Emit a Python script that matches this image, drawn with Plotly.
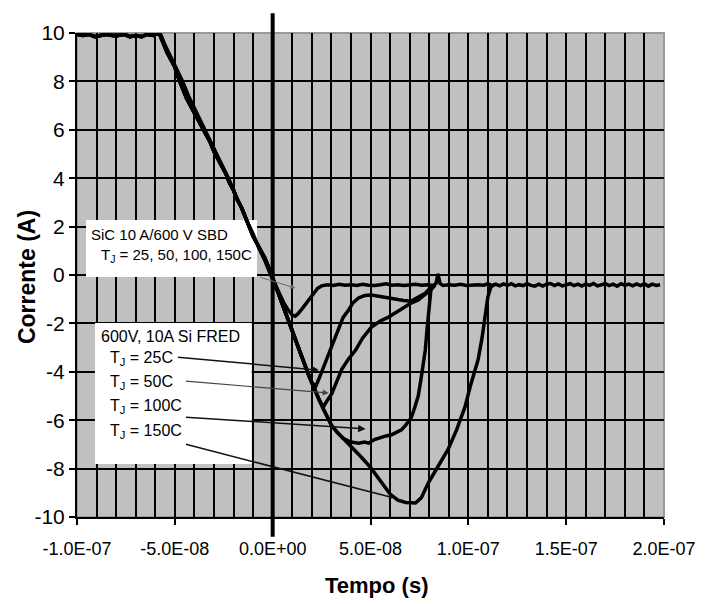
import plotly.graph_objects as go
import numpy as np

# ---------------- data (time in ns, current in A) ----------------
# common pre-zero waveform (all Si FRED curves)
t_pre = [-100, -97, -94, -91, -88, -85, -82, -79, -76, -73, -70, -67, -64, -61, -58,
         -56, -54, -52, -50, -48, -46, -44, -42, -40, -38, -36, -34, -32, -30, -28,
         -26, -24, -22, -20, -18, -16, -14, -12, -10, -8, -6, -4, -2, 0]
i_pre = [9.95, 9.9, 9.95, 9.85, 9.9, 9.95, 9.9, 9.9, 9.95, 9.85, 9.9, 9.85, 9.95, 9.9, 10.0,
         9.6, 9.2, 8.9, 8.6, 8.1, 7.7, 7.3, 7.0, 6.7, 6.4, 6.1, 5.8, 5.5, 5.1, 4.8,
         4.5, 4.2, 3.8, 3.5, 3.1, 2.8, 2.4, 2.0, 1.6, 1.3, 1.0, 0.7, 0.3, -0.1]

# SiC SBD descent (slightly offset trace) and recovery
t_sic_desc = [-57, -55, -52, -49, -46, -43, -40, -37, -34, -31, -28, -25, -22, -19, -16,
              -13, -10, -7, -4, -1]
i_sic_desc = [9.9, 9.5, 9.0, 8.5, 8.0, 7.4, 6.9, 6.4, 5.9, 5.4, 4.9, 4.4, 3.9, 3.3, 2.8,
              2.2, 1.7, 1.1, 0.6, 0.0]
t_sic = [2, 4, 6, 8, 10, 11.5, 13, 15, 17, 19, 21, 23, 25, 28, 31, 34, 37, 40, 43, 46,
         49, 52, 55, 58, 61, 64, 67, 70, 73, 76, 79, 82, 83.5, 84.5, 85.5, 87, 90, 93, 96,
         99, 102, 105, 108, 110, 112, 114, 116, 118, 120, 122, 124, 126, 128, 130, 132,
         134, 136, 138, 140, 142, 144, 146, 148, 150, 152, 154, 156, 158, 160, 162, 164,
         166, 168, 170, 172, 174, 176, 178, 180, 182, 184, 186, 188, 190, 192, 194, 196,
         198, 200]
i_sic = [-0.5, -0.9, -1.2, -1.45, -1.65, -1.7, -1.6, -1.4, -1.2, -0.95, -0.75, -0.55, -0.45,
         -0.4, -0.43, -0.38, -0.42, -0.4, -0.43, -0.38, -0.42, -0.43, -0.4, -0.36, -0.42,
         -0.4, -0.43, -0.4, -0.38, -0.42, -0.4, -0.43, -0.35, 0.05, -0.35, -0.43, -0.4,
         -0.42, -0.38, -0.43, -0.4, -0.4, -0.42, -0.36, -0.44, -0.38, -0.45, -0.37, -0.43,
         -0.36, -0.45, -0.4, -0.44, -0.36, -0.43, -0.46, -0.38, -0.46, -0.38, -0.35, -0.44,
         -0.37, -0.45, -0.41, -0.36, -0.44, -0.38, -0.46, -0.37, -0.43, -0.35, -0.45, -0.4,
         -0.36, -0.44, -0.38, -0.46, -0.36, -0.43, -0.38, -0.45, -0.37, -0.44, -0.36, -0.46,
         -0.38, -0.43, -0.4]

# Si FRED common descent after zero crossing (followed fully by Tj=150C)
t_fred = [2, 4, 6, 8, 10, 12, 14, 16, 18, 20, 22, 24, 26, 28, 30, 33, 36, 40, 45, 50,
          55, 60, 64, 68, 73]
i_fred = [-0.55, -1.0, -1.45, -1.9, -2.35, -2.8, -3.25, -3.65, -4.05, -4.45, -4.85, -5.2,
          -5.55, -5.9, -6.2, -6.5, -6.75, -7.05, -7.5, -7.95, -8.5, -9.05, -9.3, -9.4, -9.42]

# branches (leave the common descent at the given time)
t_25 = [22, 23.6, 26, 28.6, 31, 33.7, 36, 38.8, 41, 43.9, 47, 50.5, 54, 57.6, 61, 64.2,
        67, 70.8, 74, 78, 81, 83]
i_25 = [-4.6, -4.3, -3.8, -3.2, -2.7, -2.15, -1.75, -1.45, -1.15, -0.95, -0.85, -0.83,
        -0.88, -0.9, -0.95, -1.0, -1.05, -1.08, -0.95, -0.75, -0.5, -0.4]
t_50 = [26, 27, 30.2, 33, 35.3, 38.5, 42.4, 46, 50.5, 55, 59.2, 63, 67.8, 71, 74.4, 78,
        81, 83]
i_50 = [-5.45, -5.3, -4.9, -4.3, -3.9, -3.5, -3.1, -2.6, -2.15, -1.9, -1.74, -1.55, -1.32,
        -1.15, -1.03, -0.8, -0.6, -0.42]
t_100 = [36, 40, 44, 47, 49, 52, 55.6, 58, 60.7, 63, 65.8, 68, 70.8, 72.5, 74.4, 76, 77,
         78, 79, 80, 80.5, 81, 82]
i_100 = [-6.75, -6.9, -6.95, -6.9, -6.95, -6.8, -6.7, -6.65, -6.6, -6.5, -6.4, -6.2,
         -5.9, -5.5, -5.0, -4.2, -3.6, -3.1, -2.15, -1.3, -0.9, -0.5, -0.4]
t_150 = [76, 79.5, 84, 89.7, 94, 98.3, 101, 103, 105, 107, 108.5, 110, 111.5, 113]
i_150 = [-9.2, -8.6, -8.0, -7.2, -6.4, -5.45, -4.6, -4.1, -3.5, -2.6, -1.75, -0.9, -0.5, -0.4]
branch_25, branch_50, branch_100 = 20, 24, 33

x_tickvals = [-1e-7, -5e-8, 0, 5e-8, 1e-7, 1.5e-7, 2e-7]
x_ticktext = ["-1.0E-07", "-5.0E-08", "0.0E+00", "5.0E-08", "1.0E-07", "1.5E-07", "2.0E-07"]
y_tickvals = [10, 8, 6, 4, 2, 0, -2, -4, -6, -8, -10]
y_ticktext = ["10", "8", "6", "4", "2", "0", "-2", "-4", "-6", "-8", "-10"]

# ---------------- build curves ----------------
def fred_curve(branch_t, tb, ib):
    tt = list(t_pre) + [t for t in t_fred if t <= branch_t] + list(tb)
    ii = list(i_pre) + [i for t, i in zip(t_fred, i_fred) if t <= branch_t] + list(ib)
    return np.array(tt) * 1e-9, np.array(ii)

curves = [
    (np.array(t_pre[:15] + t_sic_desc + t_sic) * 1e-9, np.array(i_pre[:15] + i_sic_desc + i_sic)),
    fred_curve(branch_25, t_25, i_25),
    fred_curve(branch_50, t_50, i_50),
    fred_curve(branch_100, t_100, i_100),
    fred_curve(1000, t_150, i_150),
]

FONT = "Liberation Sans, Arial, sans-serif"
fig = go.Figure()
for tx, iy in curves:
    fig.add_trace(go.Scatter(x=tx, y=iy, mode="lines",
                             line=dict(color="black", width=3.5), showlegend=False,
                             hoverinfo="skip"))

# white label boxes
fig.add_shape(type="rect", xref="x", yref="y", x0=-9.54e-8, x1=-8.0e-9, y0=-0.08, y1=2.27,
              fillcolor="white", line=dict(width=0), layer="between")
fig.add_shape(type="rect", xref="x", yref="y", x0=-9.08e-8, x1=-1.07e-8, y0=-7.81, y1=-1.98,
              fillcolor="white", line=dict(width=0), layer="between")
# gray plot border (top/right)
fig.add_shape(type="rect", xref="paper", yref="paper", x0=0, x1=1, y0=0, y1=1,
              line=dict(color="#9a9a9a", width=2), layer="between")
# thick vertical line at t = 0
fig.add_shape(type="line", xref="x", yref="paper", x0=0, x1=0, y0=-0.041, y1=1.041,
              line=dict(color="black", width=4), layer="above")

ann = []
def txt(x, y, s, size):
    ann.append(dict(x=x, y=y, xref="x", yref="y", text=s, showarrow=False,
                    xanchor="left", yanchor="middle",
                    font=dict(family=FONT, size=size, color="black")))

txt(-9.4e-8, 1.68, "SiC 10 A/600 V SBD", 15)
txt(-8.9e-8, 0.82, "T<sub>J</sub> = 25, 50, 100, 150C", 15)
txt(-8.9e-8, -2.55, "600V, 10A Si FRED", 16)
txt(-8.4e-8, -3.43, "T<sub>J</sub> = 25C", 16)
txt(-8.4e-8, -4.45, "T<sub>J</sub> = 50C", 16)
txt(-8.4e-8, -5.45, "T<sub>J</sub> = 100C", 16)
txt(-8.4e-8, -6.48, "T<sub>J</sub> = 150C", 16)

def arrow(xt, yt, xs, ys, color, width, head=2, size=1.0):
    ann.append(dict(x=xt, y=yt, ax=xs, ay=ys, xref="x", yref="y", axref="x", ayref="y",
                    text="", showarrow=True, arrowhead=head, arrowsize=size,
                    arrowwidth=width, arrowcolor=color, standoff=0, startstandoff=0))

arrow(1.16e-8, -0.54, -6.95e-9, -0.08, "#6a6a6a", 1)
arrow(2.36e-8, -3.93, -4.92e-8, -3.39, "#111111", 1.5)
arrow(2.86e-8, -4.88, -4.51e-8, -4.38, "#444444", 1.2)
arrow(4.75e-8, -6.36, -4.51e-8, -5.87, "#111111", 1.5)
arrow(6.17e-8, -9.21, -4.51e-8, -6.98, "#111111", 1.5, head=2, size=0.6)

# axis titles as annotations (placed like the reference)
ann.append(dict(xref="paper", yref="paper", x=0.51, y=-0.1405, text="<b>Tempo (s)</b>",
                showarrow=False, xanchor="center", yanchor="middle",
                font=dict(family=FONT, size=22, color="black")))
ann.append(dict(xref="paper", yref="paper", x=-0.085, y=0.496, text="<b>Corrente (A)</b>",
                showarrow=False, xanchor="center", yanchor="middle", textangle=-90,
                font=dict(family=FONT, size=23, color="black")))

fig.update_layout(
    width=708, height=604,
    margin=dict(l=77, r=41, t=33, b=87),
    paper_bgcolor="white", plot_bgcolor="#c0c0c0",
    font=dict(family=FONT, color="black"),
    annotations=ann,
    showlegend=False,
)
fig.update_xaxes(
    range=[-1e-7, 2e-7], tickmode="array", tickvals=x_tickvals, ticktext=x_ticktext,
    tickfont=dict(size=18, family=FONT, color="black"),
    ticks="outside", ticklen=6, tickwidth=1.5, tickcolor="black", ticklabelstandoff=8,
    showline=True, linecolor="black", linewidth=2,
    showgrid=True, gridcolor="black", gridwidth=1.5, zeroline=False,
    minor=dict(tickmode="linear", tick0=0, dtick=1e-8, showgrid=True,
               gridcolor="black", gridwidth=1.5, ticks=""),
)
fig.update_yaxes(
    range=[-10, 10], tickmode="array", tickvals=y_tickvals, ticktext=y_ticktext,
    tickfont=dict(size=21, family=FONT, color="black"),
    ticks="outside", ticklen=6, tickwidth=1.5, tickcolor="black",
    showline=True, linecolor="black", linewidth=2,
    showgrid=True, gridcolor="black", gridwidth=1.5, zeroline=False,
)

fig.write_html("out.html")
